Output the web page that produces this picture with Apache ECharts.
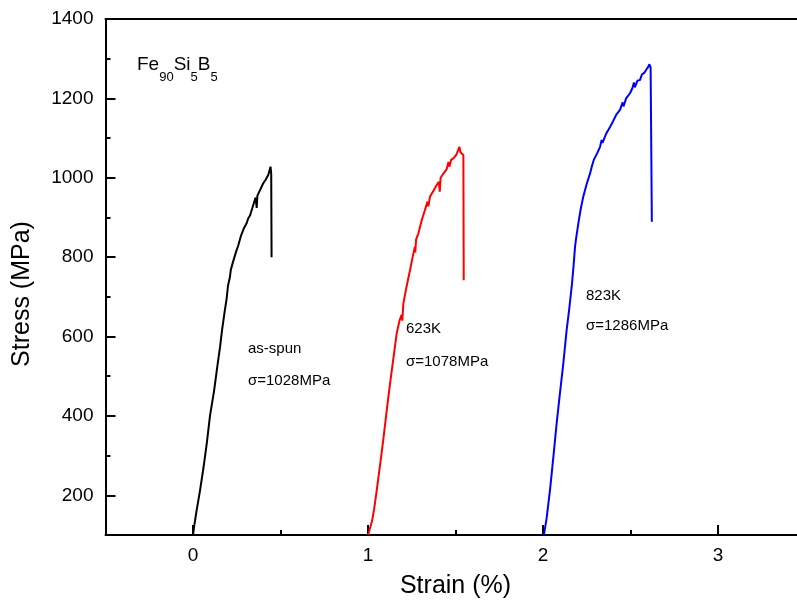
<!DOCTYPE html>
<html>
<head>
<meta charset="utf-8">
<title>Fe90Si5B5 tensile curves</title>
<script src="https://cdn.jsdelivr.net/npm/echarts@6/dist/echarts.min.js"></script>
<style>
  html, body { margin: 0; padding: 0; background: #fff; }
  #chart { width: 797px; height: 601px; }
</style>
</head>
<body>
<div id="chart"></div>
<script>
// Stress–strain curves, [strain %, stress MPa]
const asSpun = [
  [0.000, 100], [0.006, 120], [0.020, 160], [0.040, 212], [0.060, 270], [0.080, 335],
  [0.097, 400], [0.120, 462], [0.140, 528], [0.155, 575], [0.166, 616], [0.180, 660],
  [0.192, 695], [0.200, 728], [0.211, 750], [0.216, 768], [0.230, 790], [0.245, 812],
  [0.259, 830], [0.275, 855], [0.290, 872], [0.305, 884], [0.316, 898], [0.326, 905],
  [0.340, 925], [0.352, 942], [0.358, 950], [0.364, 924], [0.368, 955], [0.383, 969],
  [0.400, 985], [0.415, 995], [0.430, 1007], [0.443, 1028], [0.447, 1010], [0.449, 800]
];
const annealed623 = [
  [1.000, 100], [1.010, 115], [1.020, 130], [1.025, 140], [1.035, 165], [1.050, 213],
  [1.070, 280], [1.090, 350], [1.107, 414], [1.125, 478], [1.145, 545], [1.164, 608],
  [1.180, 640], [1.192, 655], [1.196, 640], [1.202, 683], [1.220, 725], [1.240, 767],
  [1.255, 800], [1.268, 826], [1.270, 812], [1.275, 845], [1.288, 860], [1.307, 893],
  [1.325, 918], [1.340, 940], [1.345, 928], [1.354, 952], [1.375, 968], [1.390, 980],
  [1.405, 990], [1.410, 965], [1.415, 1000], [1.430, 1010], [1.450, 1022], [1.460, 1040],
  [1.465, 1028], [1.475, 1045], [1.490, 1050], [1.505, 1058], [1.515, 1062], [1.522, 1078],
  [1.528, 1065], [1.535, 1070], [1.545, 1057], [1.547, 742]
];
const annealed823 = [
  [2.005, 100], [2.011, 116], [2.020, 140], [2.040, 213], [2.060, 300], [2.078, 381],
  [2.095, 450], [2.116, 532], [2.135, 616], [2.150, 670], [2.165, 730], [2.175, 780],
  [2.183, 826], [2.190, 850], [2.202, 885], [2.215, 920], [2.230, 952], [2.250, 985],
  [2.269, 1011], [2.280, 1030], [2.290, 1045], [2.310, 1062], [2.326, 1078], [2.335, 1095],
  [2.340, 1088], [2.360, 1110], [2.383, 1128], [2.400, 1142], [2.420, 1160], [2.440, 1171],
  [2.455, 1190], [2.460, 1180], [2.475, 1200], [2.497, 1213], [2.510, 1225], [2.520, 1240],
  [2.525, 1228], [2.540, 1245], [2.554, 1246], [2.565, 1260], [2.580, 1265], [2.590, 1272],
  [2.602, 1280], [2.608, 1286], [2.615, 1278], [2.621, 1276], [2.622, 889]
];

// Axis ticks and labels
const xMajor = [0, 1, 2, 3];
const xMinor = [-0.5, 0.5, 1.5, 2.5, 3.5];
const yMajor = [200, 400, 600, 800, 1000, 1200, 1400];
const yMinor = [300, 500, 700, 900, 1100, 1300];

// Alloy formula pieces: [text, isSubscript]
const formula = [['Fe', false], ['90', true], ['Si', false], ['5', true], ['B', false], ['5', true]];

const FONT = '"Liberation Sans", Arial, sans-serif';
const chart = echarts.init(document.getElementById('chart'), null, { renderer: 'canvas' });

const axisBase = { type: 'value', splitLine: { show: false } };
const plain = v => String(v);

// Lay out the formula as separate text pieces, measured with the same font
const measureCtx = document.createElement('canvas').getContext('2d');
function textWidth(t, size) { measureCtx.font = size + 'px ' + FONT; return measureCtx.measureText(t).width; }
const formulaGraphics = [];
let fx = 137;
formula.forEach(([t, sub]) => {
  const size = sub ? 13 : 19;
  formulaGraphics.push({
    type: 'text', x: fx, y: sub ? 77 : 65,
    style: { text: t, fontFamily: FONT, fontSize: size, fill: '#000', verticalAlign: 'middle', align: 'left' }
  });
  fx += textWidth(t, size);
});

chart.setOption({
  animation: false,
  backgroundColor: '#ffffff',
  grid: { left: 105.5, right: -8.5, top: 19, bottom: 66, containLabel: false, outerBoundsMode: 'none' },
  xAxis: [
    Object.assign({}, axisBase, {
      min: -0.5, max: 3.5, position: 'bottom',
      name: 'Strain (%)', nameLocation: 'middle', nameGap: 39,
      nameTextStyle: { fontFamily: FONT, fontSize: 25, color: '#000' },
      axisLine: { show: true, onZero: false, lineStyle: { color: '#000', width: 2 } },
      axisTick: { show: true, inside: true, length: 10, customValues: xMajor, lineStyle: { color: '#000', width: 2 } },
      axisLabel: { show: true, customValues: xMajor, formatter: plain, margin: 11, fontFamily: FONT, fontSize: 19, color: '#000' }
    }),
    Object.assign({}, axisBase, {
      min: -0.5, max: 3.5, position: 'bottom',
      axisLine: { show: false, onZero: false },
      axisTick: { show: true, inside: true, length: 5, customValues: xMinor, lineStyle: { color: '#000', width: 2 } },
      axisLabel: { show: false }
    }),
    Object.assign({}, axisBase, {
      min: -0.5, max: 3.5, position: 'top',
      axisLine: { show: true, onZero: false, lineStyle: { color: '#000', width: 2 } },
      axisTick: { show: false },
      axisLabel: { show: false }
    })
  ],
  yAxis: [
    Object.assign({}, axisBase, {
      min: 100, max: 1400, position: 'left',
      axisLine: { show: true, onZero: false, lineStyle: { color: '#000', width: 2 } },
      axisTick: { show: true, inside: true, length: 10, customValues: yMajor, lineStyle: { color: '#000', width: 2 } },
      axisLabel: { show: true, customValues: yMajor, formatter: plain, margin: 12, fontFamily: FONT, fontSize: 19, color: '#000' }
    }),
    Object.assign({}, axisBase, {
      min: 100, max: 1400, position: 'left',
      axisLine: { show: false, onZero: false },
      axisTick: { show: true, inside: true, length: 5, customValues: yMinor, lineStyle: { color: '#000', width: 2 } },
      axisLabel: { show: false }
    })
  ],
  series: [
    { name: 'as-spun', type: 'line', data: asSpun, showSymbol: false, lineStyle: { color: '#000000', width: 2 }, itemStyle: { color: '#000000' } },
    { name: '623K', type: 'line', data: annealed623, showSymbol: false, lineStyle: { color: '#ff0000', width: 2 }, itemStyle: { color: '#ff0000' } },
    { name: '823K', type: 'line', data: annealed823, showSymbol: false, lineStyle: { color: '#0000ff', width: 2 }, itemStyle: { color: '#0000ff' } }
  ],
  graphic: formulaGraphics.concat([
    {
      type: 'text', x: 22, y: 294, rotation: Math.PI / 2,
      style: { text: 'Stress (MPa)', fontFamily: FONT, fontSize: 25, fill: '#000', align: 'center', verticalAlign: 'middle' }
    },
    { type: 'text', left: 248, top: 341, style: { text: 'as-spun', fontFamily: FONT, fontSize: 15, fill: '#000' } },
    { type: 'text', left: 248, top: 373, style: { text: 'σ=1028MPa', fontFamily: FONT, fontSize: 15, fill: '#000' } },
    { type: 'text', left: 406, top: 321, style: { text: '623K', fontFamily: FONT, fontSize: 15, fill: '#000' } },
    { type: 'text', left: 406, top: 354, style: { text: 'σ=1078MPa', fontFamily: FONT, fontSize: 15, fill: '#000' } },
    { type: 'text', left: 586, top: 288, style: { text: '823K', fontFamily: FONT, fontSize: 15, fill: '#000' } },
    { type: 'text', left: 586, top: 318, style: { text: 'σ=1286MPa', fontFamily: FONT, fontSize: 15, fill: '#000' } }
  ])
});
</script>
</body>
</html>
